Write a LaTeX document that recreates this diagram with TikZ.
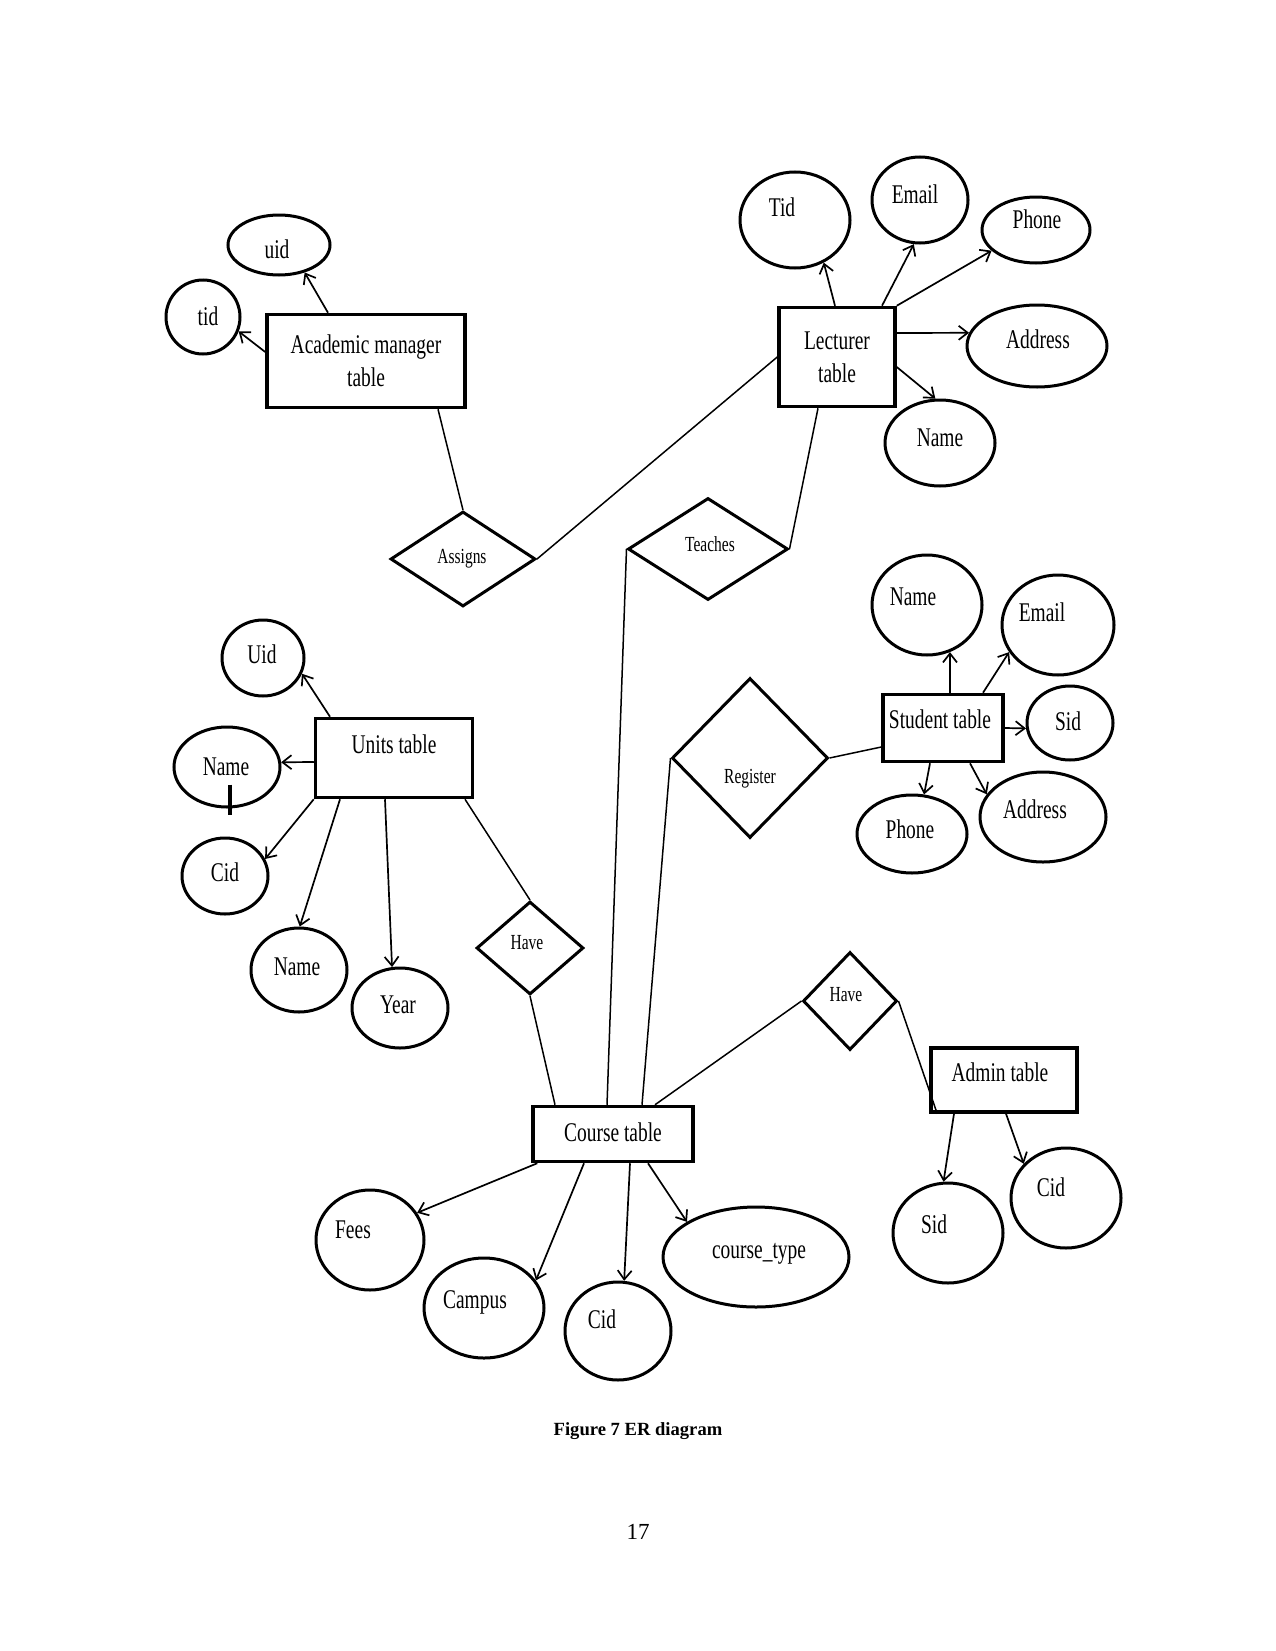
\documentclass[tikz,border=0pt]{standalone}
\usepackage{fontspec}
\setmainfont{Liberation Serif}
\newfontfamily\erfont[FakeStretch=0.72]{Liberation Serif}
\usetikzlibrary{shapes.geometric,arrows.meta}
\newcommand\tx[3]{\hspace*{#1pt}\makebox[0pt]{\smash{\raisebox{\dimexpr -#2pt - 0.3em\relax}{#3}}}\hspace*{-#1pt}}
\tikzset{
  ent/.style={draw, line width=3.5pt, rectangle, inner sep=0pt, align=center,
    font=\erfont\fontsize{27}{33}\selectfont},
  att/.style={draw, line width=3pt, ellipse, inner sep=0pt,
    font=\erfont\fontsize{27}{33}\selectfont},
  rel/.style={draw, line width=3pt, diamond, inner sep=0pt,
    font=\erfont\fontsize{21.5}{25}\selectfont},
  lnk/.style={line width=1.5pt},
  arr/.style={line width=1.7pt, -{Straight Barb[length=9pt,width=14pt]}},
}
\begin{document}
\begin{tikzpicture}[x=1pt,y=-1pt]
\fill[white] (0,0) rectangle (1275,1651);
\useasboundingbox (0,0) rectangle (1275,1651);

% ---------- entities ----------
\node[ent, minimum width=198pt, minimum height=93pt] (acad) at (366,361) {Academic manager\\table};
\node[ent, minimum width=116pt, minimum height=99pt] (lect) at (837,357) {Lecturer\\table};
\node[ent, minimum width=157pt, minimum height=79pt] (units) at (394,758) {\tx{0}{-13}{Units table}};
\node[ent, minimum width=120pt, minimum height=67pt] (student) at (943,728) {\tx{-3}{-8}{Student table}};
\node[ent, minimum width=160pt, minimum height=55pt] (course) at (613,1134) {\tx{0}{-1}{Course table}};
\node[ent, minimum width=146pt, minimum height=64pt] (admin) at (1004,1080) {\tx{-4}{-7}{Admin table}};

% ---------- relationships ----------
\node[rel, minimum width=145pt, minimum height=95pt] (assigns) at (463,559) {\tx{-1}{-2}{Assigns}};
\node[rel, minimum width=160pt, minimum height=102pt] (teaches) at (708,549) {\tx{2}{-4}{Teaches}};
\node[rel, minimum width=156pt, minimum height=160pt] (register) at (750,758) {\tx{0}{19}{Register}};
\node[rel, minimum width=107pt, minimum height=93pt] (have1) at (530,948) {\tx{-3}{-5}{Have}};
\node[rel, minimum width=94pt, minimum height=98pt] (have2) at (850,1001) {\tx{-4}{-6}{Have}};

% ---------- attributes ----------
% academic manager
\node[att, minimum width=102pt, minimum height=60pt] (a_uid) at (279,245) {\tx{-2}{5}{uid}};
\node[att, minimum width=74pt, minimum height=74pt] (a_tid) at (203,317) {\tx{5}{0}{tid}};
% lecturer
\node[att, minimum width=110pt, minimum height=96pt] (l_tid) at (795,220) {\tx{-13}{-12}{Tid}};
\node[att, minimum width=96pt, minimum height=86pt] (l_email) at (920,200) {\tx{-5}{-5}{Email}};
\node[att, minimum width=108pt, minimum height=66pt] (l_phone) at (1036,230) {\tx{1}{-10}{Phone}};
\node[att, minimum width=140pt, minimum height=82pt] (l_addr) at (1037,346) {\tx{1}{-6}{Address}};
\node[att, minimum width=110pt, minimum height=86pt] (l_name) at (940,443) {\tx{0}{-5}{Name}};
% units
\node[att, minimum width=82pt, minimum height=76pt] (u_uid) at (263,658) {\tx{-1}{-3}{Uid}};
\node[att, minimum width=106pt, minimum height=80pt] (u_name) at (227,767) {\tx{-1}{0}{Name}};
\node[att, minimum width=86pt, minimum height=76pt] (u_cid) at (225,876) {\tx{0}{-3}{Cid}};
\node[att, minimum width=96pt, minimum height=84pt] (u_name2) at (299,970) {\tx{-2}{-3}{Name}};
\node[att, minimum width=96pt, minimum height=80pt] (u_year) at (400,1008) {\tx{-2}{-3}{Year}};
% student
\node[att, minimum width=110pt, minimum height=100pt] (s_name) at (927,605) {\tx{-14}{-8}{Name}};
\node[att, minimum width=112pt, minimum height=100pt] (s_email) at (1058,625) {\tx{-16}{-12}{Email}};
\node[att, minimum width=86pt, minimum height=74pt] (s_sid) at (1070,723) {\tx{-2}{-1}{Sid}};
\node[att, minimum width=110pt, minimum height=78pt] (s_phone) at (912,834) {\tx{-2}{-4}{Phone}};
\node[att, minimum width=126pt, minimum height=90pt] (s_addr) at (1043,817) {\tx{-8}{-7}{Address}};
% course
\node[att, minimum width=108pt, minimum height=100pt] (c_fees) at (370,1240) {\tx{-17}{-10}{Fees}};
\node[att, minimum width=120pt, minimum height=100pt] (c_campus) at (484,1308) {\tx{-9}{-8}{Campus}};
\node[att, minimum width=106pt, minimum height=98pt] (c_cid) at (618,1331) {\tx{-16}{-11}{Cid}};
\node[att, minimum width=186pt, minimum height=100pt] (c_ctype) at (756,1257) {\tx{3}{-7}{course\_type}};
% admin
\node[att, minimum width=110pt, minimum height=100pt] (d_sid) at (948,1233) {\tx{-14}{-8}{Sid}};
\node[att, minimum width=110pt, minimum height=100pt] (d_cid) at (1066,1198) {\tx{-15}{-10}{Cid}};

% ---------- relationship links ----------
\draw[lnk] ([xshift=72pt]acad.south) -- (assigns.north);
\draw[lnk] (assigns.east) -- (lect.west);
\draw[lnk] ([xshift=-19pt]lect.south) -- (teaches.east);
\draw[lnk] (teaches.west) -- ([xshift=-6pt]course.north);
\draw[lnk] ([xshift=71pt]units.south) -- (have1.north);
\draw[lnk] (have1.south) -- ([xshift=-58pt]course.north);
\draw[lnk] (register.west) -- ([xshift=29pt]course.north);
\draw[lnk] (register.east) -- ([yshift=-19pt]student.west);
\draw[lnk] (have2.west) -- ([xshift=42pt]course.north);
\draw[lnk] (have2.east) -- ([xshift=8pt]admin.south west);

% ---------- attribute arrows ----------
\draw[arr] ([xshift=-38pt]acad.north) -- (a_uid.-47);
\draw[arr] ([yshift=9pt]acad.west) -- (a_tid.-22);

\draw[arr] ([xshift=-2pt]lect.north) -- (l_tid.-56);
\draw[arr] ([xshift=45pt]lect.north) -- (l_email.-98);
\draw[arr] (lect.north east) -- (l_phone.-155);
\draw[arr] ([yshift=24pt]lect.east) -- (l_addr.169);
\draw[arr] ([yshift=-10pt]lect.east) -- (l_name.96);

\draw[arr] ([xshift=-64pt]units.north) -- (u_uid.-22);
\draw[arr] ([yshift=-4pt]units.west) -- (u_name.5);
\draw[arr] (units.south west) -- (u_cid.23);
\draw[arr] ([xshift=-54pt]units.south) -- (u_name2.89);
\draw[arr] ([xshift=-9pt]units.south) -- (u_year.101);
\draw[line width=3.5pt] ([xshift=3pt,yshift=24pt]u_name.south) -- ([xshift=3pt,yshift=-6pt]u_name.south);

\draw[arr] ([xshift=7pt]student.north) -- (s_name.-64);
\draw[arr] ([xshift=40pt]student.north) -- (s_email.-151);
\draw[arr] (student.east) -- (s_sid.-173);
\draw[arr] ([xshift=-13pt]student.south) -- (s_phone.73);
\draw[arr] ([xshift=27pt]student.south) -- (s_addr.158);

\draw[arr] ([xshift=6pt]course.south west) -- (c_fees.30);
\draw[arr] ([xshift=-29pt]course.south) -- (c_campus.28);
\draw[arr] ([xshift=17pt]course.south) -- (c_cid.83);
\draw[arr] ([xshift=35pt]course.south) -- (c_ctype.153);

\draw[arr] ([xshift=-50pt]admin.south) -- (d_sid.95);
\draw[arr] ([xshift=2pt]admin.south) -- (d_cid.141);

% ---------- caption and page number ----------
\node[font=\bfseries\fontsize{18.6}{22}\selectfont] (caption) at (638,1431) {Figure 7 ER diagram};
\node[font=\fontsize{23}{27}\selectfont] (pagenum) at (638,1532) {17};
\end{tikzpicture}
\end{document}
